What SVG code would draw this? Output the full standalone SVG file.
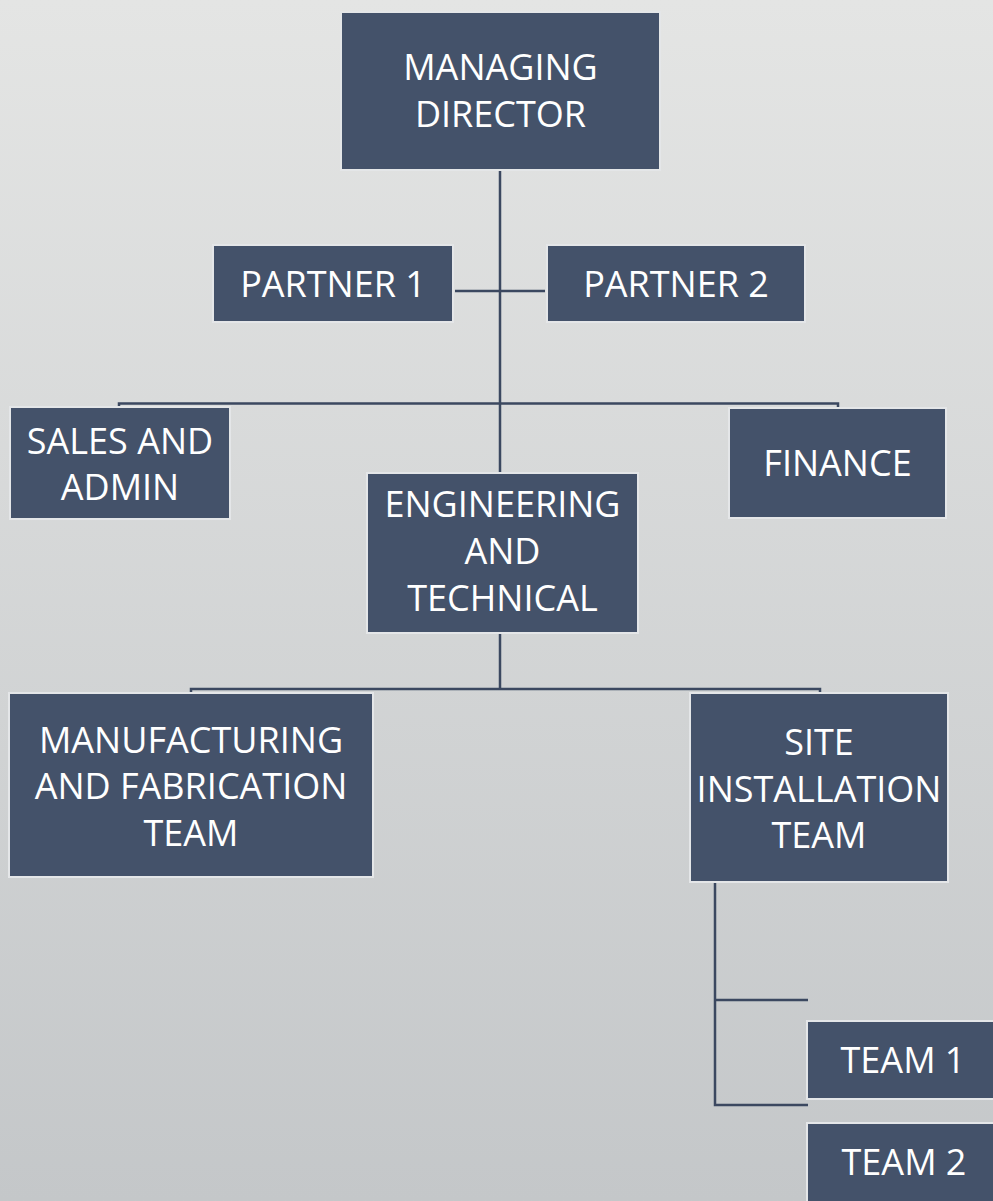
<svg xmlns="http://www.w3.org/2000/svg" width="993" height="1201" viewBox="0 0 993 1201">
<defs>
<linearGradient id="bg" x1="0" y1="0" x2="0" y2="1">
<stop offset="0" stop-color="#e4e5e4"/>
<stop offset="1" stop-color="#c4c7c9"/>
</linearGradient>
</defs>
<style>
.box{fill:#44526a;stroke:#e4e6e8;stroke-width:2}
.t{font-family:"Open Sans","Liberation Sans",sans-serif;font-size:36px;fill:#ffffff;text-anchor:middle}
.c{fill:none;stroke:#3b4860;stroke-width:2.5}
</style>
<rect x="0" y="0" width="993" height="1201" fill="url(#bg)"/>
<g id="connectors">
<line class="c" x1="500" y1="171" x2="500" y2="472"/>
<line class="c" x1="455" y1="291" x2="545" y2="291"/>
<polyline class="c" points="119,408 119,403.5 838,403.5 838,408"/>
<line class="c" x1="500" y1="634" x2="500" y2="689"/>
<polyline class="c" points="191,693 191,689 820,689 820,693"/>
<polyline class="c" points="808,1000 715,1000 715,883 715,1105 808,1105"/>
</g>
<g id="md"><rect class="box" x="341" y="12" width="319" height="158"/><text class="t" x="500.5" y="80">MANAGING</text><text class="t" x="500.5" y="127">DIRECTOR</text></g>
<g id="partner1"><rect class="box" x="213" y="245" width="240" height="77"/><text class="t" x="333" y="297">PARTNER 1</text></g>
<g id="partner2"><rect class="box" x="547" y="245" width="258" height="77"/><text class="t" x="676" y="297">PARTNER 2</text></g>
<g id="sales"><rect class="box" x="10" y="407" width="220" height="112"/><text class="t" x="120" y="454">SALES AND</text><text class="t" x="120" y="500">ADMIN</text></g>
<g id="finance"><rect class="box" x="729" y="408" width="217" height="110"/><text class="t" x="837.5" y="476">FINANCE</text></g>
<g id="engineering"><rect class="box" x="367" y="473" width="271" height="160"/><text class="t" x="502.5" y="517">ENGINEERING</text><text class="t" x="502.5" y="564">AND</text><text class="t" x="502.5" y="611">TECHNICAL</text></g>
<g id="manufacturing"><rect class="box" x="9" y="693" width="364" height="184"/><text class="t" x="191" y="753">MANUFACTURING</text><text class="t" x="191" y="799">AND FABRICATION</text><text class="t" x="191" y="846">TEAM</text></g>
<g id="site"><rect class="box" x="690" y="693" width="258" height="189"/><text class="t" x="819" y="755">SITE</text><text class="t" x="819" y="802">INSTALLATION</text><text class="t" x="819" y="848">TEAM</text></g>
<g id="team1"><rect class="box" x="807" y="1021" width="192" height="78"/><text class="t" x="903" y="1073">TEAM 1</text></g>
<g id="team2"><rect class="box" x="807" y="1123" width="192" height="85"/><text class="t" x="904" y="1175">TEAM 2</text></g>
</svg>
